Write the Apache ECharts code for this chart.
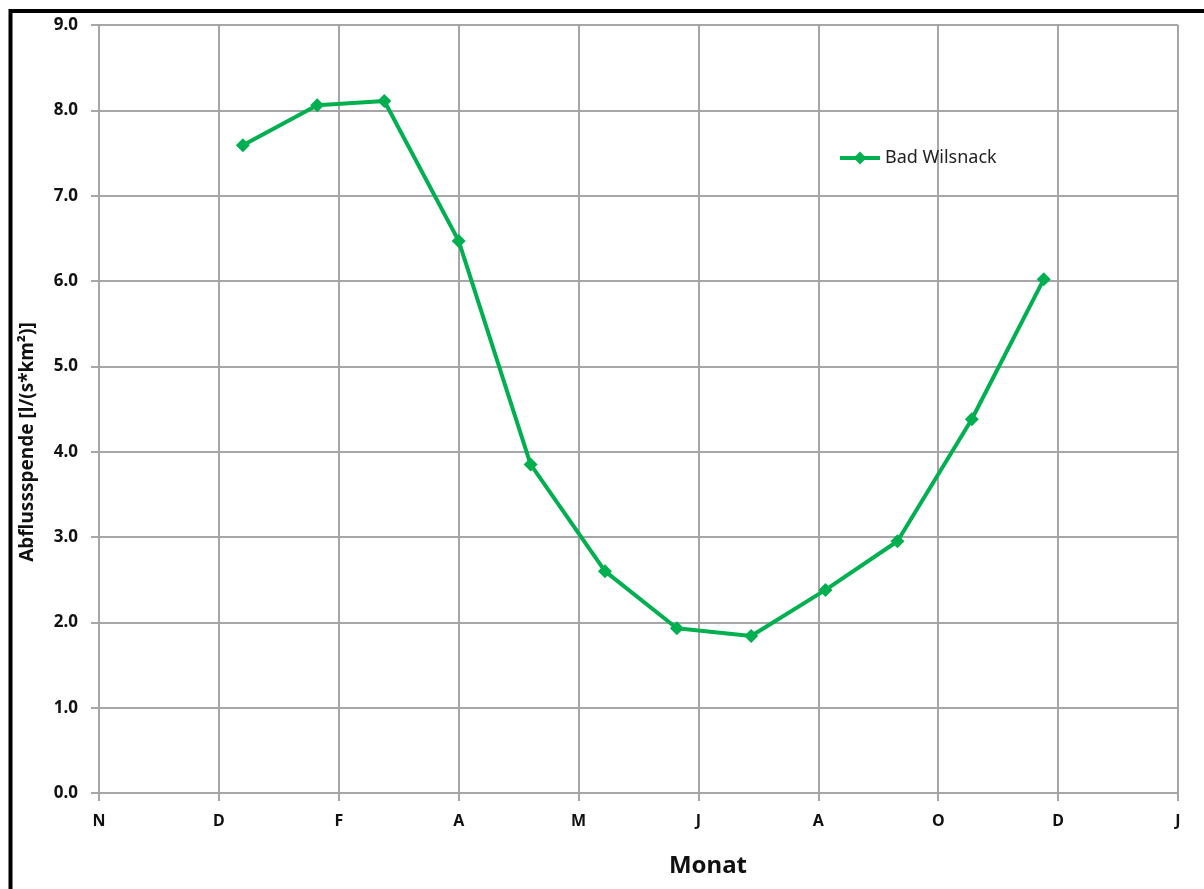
<!DOCTYPE html>
<html>
<head>
<meta charset="utf-8">
<script src="https://cdn.jsdelivr.net/npm/echarts@6/dist/echarts.min.js"></script>
<style>
  html, body { margin: 0; padding: 0; background: #fff; }
  #chart { width: 1204px; height: 889px; }
</style>
</head>
<body>
<div id="chart"></div>
<script>
// Month data points (1st of each month), x in days since axis start (2 Nov of previous year)
const months = ['Jan','Feb','Mär','Apr','Mai','Jun','Jul','Aug','Sep','Okt','Nov','Dez'];
const monthDay = [60, 91, 119, 150, 180, 211, 241, 272, 303, 333, 364, 394];
const values = [7.59, 8.06, 8.11, 6.47, 3.85, 2.60, 1.93, 1.84, 2.38, 2.95, 4.38, 6.02];
const xTickLabels = ['N','D','F','A','M','J','A','O','D','J'];
const seriesName = 'Bad Wilsnack';
const xAxisTitle = 'Monat';
const yAxisTitle = 'Abflussspende [l/(s*km²)]';

const chart = echarts.init(document.getElementById('chart'));
const font = 'Noto Sans, DejaVu Sans, sans-serif';
const green = '#00B050';
const gridGray = '#a6a6a6';

chart.setOption({
  animation: false,
  backgroundColor: '#fff',
  graphic: [
    { type: 'line', shape: { x1: 10.5, y1: 9, x2: 10.5, y2: 889 }, style: { stroke: '#000', lineWidth: 4 } },
    { type: 'line', shape: { x1: 9, y1: 11, x2: 1204, y2: 11 }, style: { stroke: '#000', lineWidth: 4 } },
    { type: 'text', x: 708, y: 866, style: { text: xAxisTitle, fontFamily: font, fontSize: 24, fontWeight: 'bold', fill: '#111', align: 'center', verticalAlign: 'middle' } },
    { type: 'text', x: 28, y: 442, rotation: Math.PI / 2, style: { text: yAxisTitle, fontFamily: font, fontSize: 19, fontWeight: 'bold', fill: '#111', align: 'center', verticalAlign: 'middle' } }
  ],
  grid: { left: 99, right: 26, top: 25, bottom: 96, containLabel: false },
  legend: {
    data: [seriesName],
    left: 838, top: 149, padding: 0,
    itemWidth: 40, itemHeight: 16, itemGap: 4,
    lineStyle: { width: 4 },
    textStyle: { fontFamily: font, fontSize: 18, color: '#222' }
  },
  xAxis: {
    type: 'value',
    min: 0, max: 450, interval: 50,
    axisLine: { show: true, lineStyle: { color: gridGray, width: 2 } },
    axisTick: { show: true, length: 8, lineStyle: { color: gridGray, width: 2 } },
    splitLine: { show: true, lineStyle: { color: gridGray, width: 2 } },
    axisLabel: {
      margin: 20,
      fontFamily: font, fontSize: 16, fontWeight: 'bold', color: '#111',
      formatter: v => xTickLabels[Math.round(v / 50)] || ''
    }
  },
  yAxis: {
    type: 'value',
    min: 0, max: 9, interval: 1,
    axisLine: { show: true, lineStyle: { color: gridGray, width: 2 } },
    axisTick: { show: true, length: 8, lineStyle: { color: gridGray, width: 2 } },
    splitLine: { show: true, lineStyle: { color: gridGray, width: 2 } },
    axisLabel: {
      margin: 21,
      fontFamily: font, fontSize: 17, fontWeight: 'bold', color: '#111',
      formatter: v => v.toFixed(1)
    }
  },
  series: [{
    name: seriesName,
    type: 'line',
    data: monthDay.map((d, i) => [d, values[i]]),
    symbol: 'diamond',
    symbolSize: 14,
    lineStyle: { color: green, width: 4 },
    itemStyle: { color: green },
    z: 5
  }]
});
</script>
</body>
</html>
